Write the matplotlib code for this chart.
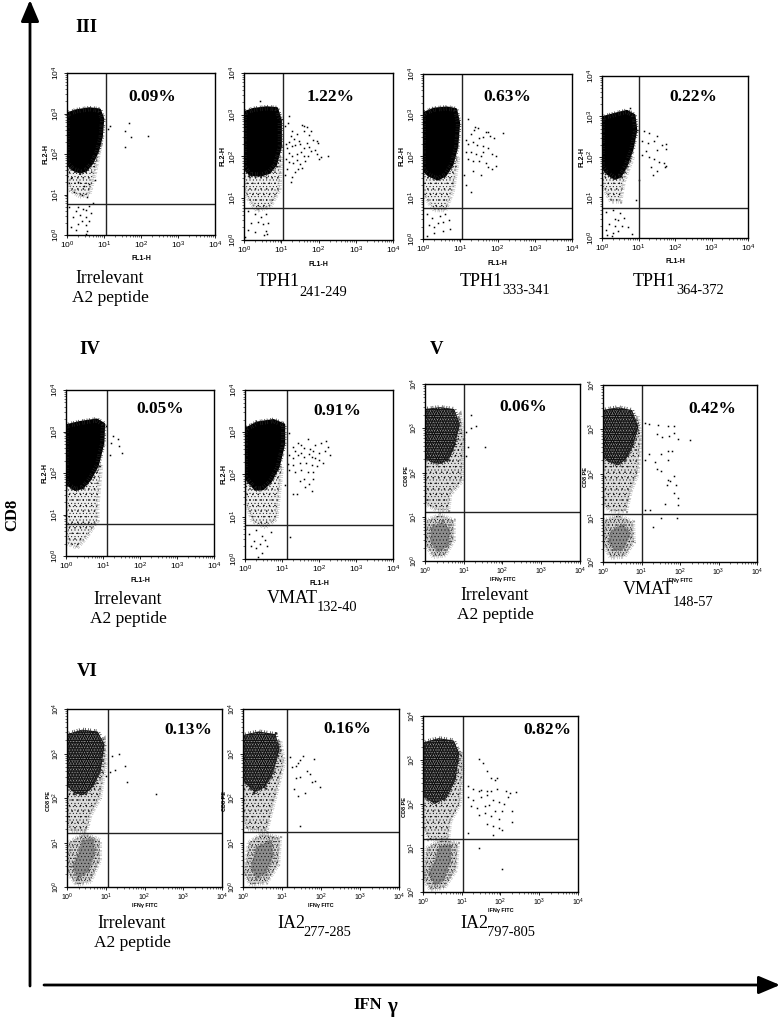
#!/usr/bin/env python3
import numpy as np
import matplotlib
matplotlib.use("Agg")
import matplotlib.pyplot as plt
from matplotlib.ticker import LogLocator, NullFormatter

W, H = 780, 1021
plt.rcParams["font.family"] = ["Liberation Serif", "DejaVu Serif"]
plt.rcParams["mathtext.default"] = "regular"
plt.rcParams["hatch.linewidth"] = 0.3

# all events are log10 fluorescence values (x = IFNg, y = CD8)
PERCENT = ["0.09%", "1.22%", "0.63%", "0.22%", "0.05%", "0.91%", "0.06%", "0.42%", "0.13%", "0.16%", "0.82%"]
GATE_X = [1.05, 1.05, 1.05, 1.01, 1.11, 1.135, 1.0, 1.01, 1.06, 1.13, 1.03]
GATE_Y = [0.765, 0.77, 0.76, 0.74, 0.77, 0.80, 1.107, 1.085, 1.21, 1.236, 1.2]

# dense populations, outlined
CORE_1 = [(0, 2.99), (.25, 3.07), (.61, 3.12), (.88, 3.09), (.97, 2.87), (.93, 2.42), (.82, 2.05), (.68, 1.78), (.52, 1.6), (.36, 1.55), (.16, 1.62), (0, 1.76)]
CORE_2 = [(0, 3.05), (.25, 3.13), (.61, 3.17), (.88, 3.15), (.98, 2.87), (.98, 2.23), (.85, 1.8), (.68, 1.62), (.45, 1.55), (.16, 1.57), (0, 1.75)]
CORE_3 = [(0, 3.04), (.29, 3.15), (.64, 3.18), (.88, 3.14), (.96, 2.81), (.91, 2.24), (.78, 1.8), (.6, 1.55), (.4, 1.45), (.15, 1.55), (0, 1.68)]
CORE_4 = [(0, 2.97), (.32, 3.05), (.68, 3.13), (.88, 3.03), (.93, 2.66), (.82, 2.17), (.66, 1.78), (.5, 1.52), (.35, 1.47), (.14, 1.6), (0, 1.76)]
CORE_5 = [(0, 3.14), (.38, 3.22), (.83, 3.28), (1.02, 3.18), (1.0, 2.72), (.85, 2.18), (.65, 1.85), (.45, 1.65), (.25, 1.6), (0, 1.75)]
CORE_6 = [(0, 3.07), (.32, 3.22), (.77, 3.28), (1.05, 3.18), (1.05, 2.73), (.9, 2.18), (.68, 1.82), (.48, 1.66), (.28, 1.65), (0, 1.94)]
CORE_7 = [(0, 3.42), (.39, 3.46), (.74, 3.42), (.88, 3.1), (.75, 2.6), (.6, 2.3), (.39, 2.21), (.15, 2.25), (0, 2.35)]
CORE_8 = [(0, 3.42), (.39, 3.48), (.74, 3.42), (.9, 3.05), (.75, 2.6), (.58, 2.33), (.39, 2.2), (.15, 2.28), (0, 2.4)]
CORE_9 = [(0, 3.42), (.39, 3.52), (.78, 3.48), (.95, 3.2), (.85, 2.6), (.65, 2.25), (.42, 2.08), (.2, 2.12), (0, 2.3)]
CORE_10 = [(0, 3.4), (.4, 3.48), (.82, 3.42), (.92, 3.1), (.75, 2.55), (.55, 2.25), (.3, 2.15), (0, 2.4)]
CORE_11 = [(0, 3.38), (.4, 3.48), (.78, 3.43), (.92, 3.15), (.82, 2.55), (.6, 2.15), (.3, 2.02), (0, 2.2)]

# thinner populations around and below the core
HALO_1 = [(0, 2.0), (.9, 2.2), (.75, 1.5), (.6, 1.0), (.35, .95), (.1, 1.1), (0, 1.4)]
HALO_2 = [(0, 1.9), (1.0, 2.0), (.95, 1.2), (.7, .8), (.35, .7), (.1, 1.0), (0, 1.3)]
HALO_3 = [(0, 1.9), (.95, 2.0), (.8, 1.15), (.6, .7), (.3, .7), (0, 1.1)]
HALO_4 = [(0, 1.8), (.85, 2.0), (.6, 1.4), (.5, .9), (.25, .9), (0, 1.3)]
HALO_5 = [(0, 1.9), (.95, 2.2), (.85, 1.2), (.85, .85), (.55, .45), (.3, .2), (.05, .3), (0, .8)]
HALO_6 = [(0, 1.9), (1.0, 2.2), (.9, 1.4), (.85, .95), (.55, .75), (.2, .9), (0, 1.4)]
HALO_7 = [(0, 2.4), (.9, 3.3), (1.0, 2.8), (.95, 1.8), (.65, 1.5), (.6, 1.15), (.3, 1.15), (0, 1.3)]
HALO_8 = [(0, 2.5), (.9, 3.3), (.98, 2.8), (.9, 2.0), (.72, 1.6), (.6, 1.15), (.2, 1.15), (0, 1.3)]
HALO_9 = [(0, 2.4), (.95, 3.3), (1.0, 2.8), (.85, 2.0), (.6, 1.6), (.5, 1.25), (.1, 1.25), (0, 1.5)]
HALO_10 = [(0, 2.5), (.95, 3.3), (1.05, 2.8), (.85, 2.1), (.7, 1.6), (.6, 1.25), (.1, 1.3), (0, 1.6)]
HALO_11 = [(0, 2.3), (1.0, 3.2), (1.02, 2.8), (.95, 2.0), (.7, 1.6), (.65, 1.2), (.15, 1.2), (0, 1.5)]

# CD8-negative cluster in the last five panels
LOW_7 = [(.05, .92), (.39, 1.04), (.74, .92), (.74, .47), (.52, .13), (.22, .09), (.01, .39)]
LOW_8 = [(.05, .95), (.4, 1.05), (.78, .9), (.8, .45), (.55, .12), (.2, .1), (.01, .4)]
LOW_9 = [(.05, 1.0), (.45, 1.2), (.85, 1.05), (.85, .6), (.6, .12), (.25, .05), (0, .35)]
LOW_10 = [(.15, 1.0), (.5, 1.2), (.95, 1.1), (.9, .5), (.6, .1), (.2, .05), (.03, .3)]
LOW_11 = [(.1, 1.0), (.5, 1.2), (.9, 1.1), (.85, .5), (.55, .1), (.2, .05), (0, .3)]
# darkest part of that cluster
LOWC_7 = [(.15, .75), (.45, .88), (.65, .7), (.6, .35), (.35, .2), (.15, .4)]
LOWC_8 = [(.2, .7), (.5, .85), (.72, .65), (.55, .3), (.3, .25), (.15, .45)]
LOWC_9 = [(.4, 1.05), (.68, 1.08), (.72, .75), (.55, .35), (.3, .2), (.15, .45), (.3, .75)]
LOWC_10 = [(.35, .9), (.72, 1.05), (.78, .7), (.58, .3), (.35, .2), (.2, .45)]
LOWC_11 = [(.42, 1.05), (.72, 1.08), (.72, .7), (.52, .25), (.3, .15), (.15, .45), (.3, .7)]

# single events
DOTS_1 = [(1.11, 2.62), (1.17, 2.68), (1.68, 2.76), (1.58, 2.56), (1.74, 2.42), (2.19, 2.44), (1.58, 2.17),
          (.1, 1.4), (.3, 1.3), (.45, 1.2), (.6, 1.25), (.2, 1.05), (.4, 1.0), (.55, .95), (.75, 1.35), (.7, .8),
          (.3, .7), (.42, .65), (.52, .62), (.6, .72), (.25, .6), (.35, .5), (.5, .45), (.15, .45), (.6, .35),
          (.4, .35), (.5, .25), (.3, .28), (.1, .2), (.55, .1), (.52, .03), (.25, .12), (.65, .55), (.05, .7)]
DOTS_2 = [(.42, 3.33), (1.22, 2.98), (1.19, 2.8), (1.1, 2.72), (1.3, 2.6), (1.25, 2.5), (1.42, 2.55), (1.56, 2.76),
          (1.62, 2.62), (1.6, 2.72), (1.7, 2.7), (1.8, 2.6), (1.75, 2.52), (1.47, 2.36), (1.35, 2.42), (1.2, 2.35),
          (1.12, 2.3), (1.15, 2.2), (1.28, 2.24), (1.38, 2.27), (1.5, 2.3), (1.6, 2.2), (1.68, 2.32), (1.75, 2.22),
          (1.85, 2.4), (1.97, 2.38), (1.98, 2.33), (1.8, 2.12), (1.9, 2.15), (1.95, 2.05), (2.0, 1.93), (2.08, 1.98),
          (2.25, 2.0), (1.2, 2.08), (1.3, 2.0), (1.42, 2.05), (1.52, 2.1), (1.6, 2.0), (1.65, 1.9), (1.72, 2.02),
          (1.12, 1.95), (1.22, 1.88), (1.32, 1.85), (1.42, 1.92), (1.5, 1.82), (1.55, 1.72), (1.45, 1.7), (1.38, 1.62),
          (1.28, 1.5), (1.15, 1.7), (1.1, 1.55), (1.25, 1.4), (.1, .7), (.3, .62), (.45, .55), (.6, .62), (.2, .4),
          (.38, .42), (.5, .38), (.65, .4), (.12, .25), (.3, .2), (.58, .22), (.62, .15), (.04, .08), (.55, .12)]
DOTS_3 = [(1.2, 2.92), (1.4, 2.72), (1.38, 2.65), (1.47, 2.68), (1.7, 2.6), (1.75, 2.6), (2.15, 2.58), (1.9, 2.45),
          (1.8, 2.5), (1.6, 2.48), (1.5, 2.45), (1.3, 2.55), (1.15, 2.4), (1.22, 2.3), (1.35, 2.35), (1.45, 2.28),
          (1.6, 2.25), (1.75, 2.2), (1.62, 2.12), (1.85, 2.05), (1.95, 2.0), (1.55, 2.0), (1.42, 2.05), (1.3, 2.12),
          (1.15, 2.1), (1.2, 1.95), (1.35, 1.88), (1.5, 1.9), (1.68, 1.85), (1.75, 1.75), (1.85, 1.7), (1.95, 1.78),
          (1.35, 1.65), (1.55, 1.55), (1.15, 1.3), (1.28, 1.15), (1.1, 1.55), (.1, .6), (.25, .5), (.45, .55),
          (.6, .6), (.4, .38), (.55, .42), (.7, .45), (.15, .35), (.3, .28), (.55, .2), (.72, .25), (.1, .08), (.3, .15)]
DOTS_4 = [(.78, 3.2), (1.15, 2.65), (1.3, 2.6), (1.52, 2.52), (1.42, 2.4), (1.1, 2.4), (1.25, 2.35), (1.65, 2.3),
          (1.75, 2.32), (1.75, 2.2), (1.5, 2.18), (1.2, 2.15), (1.1, 2.05), (1.3, 2.0), (1.42, 1.95), (1.55, 1.88),
          (1.7, 1.85), (1.72, 1.75), (1.75, 1.78), (1.35, 1.75), (1.4, 1.55), (1.5, 1.65), (1.02, 1.42), (.92, .95),
          (.1, .65), (.3, .7), (.5, .62), (.35, .48), (.45, .45), (.6, .5), (.2, .35), (.35, .3), (.55, .3),
          (.12, .2), (.3, .12), (.45, .18), (.28, .05), (.72, .28), (.82, .1), (.15, .08)]
DOTS_5 = [(1.07, 3.13), (1.27, 2.9), (1.22, 2.73), (1.4, 2.83), (1.44, 2.66), (1.52, 2.49), (1.18, 2.43)]
DOTS_6 = [(1.2, 2.98), (1.3, 2.65), (1.42, 2.75), (1.35, 2.55), (1.5, 2.7), (1.6, 2.62), (1.7, 2.85), (1.75, 2.6),
          (1.85, 2.55), (1.9, 2.7), (2.0, 2.5), (2.05, 2.75), (2.2, 2.8), (2.15, 2.55), (2.25, 2.65), (2.3, 2.45),
          (1.2, 2.45), (1.3, 2.38), (1.42, 2.45), (1.5, 2.5), (1.6, 2.42), (1.72, 2.48), (1.82, 2.42), (1.9, 2.38),
          (2.0, 2.35), (2.1, 2.28), (1.95, 2.2), (1.8, 2.22), (1.65, 2.28), (1.48, 2.28), (1.3, 2.22), (1.15, 2.25),
          (1.2, 2.1), (1.35, 2.05), (1.52, 2.1), (1.7, 2.05), (1.85, 2.05), (1.6, 1.9), (1.48, 1.85), (1.72, 1.78),
          (1.85, 1.9), (1.62, 1.7), (1.82, 1.6), (1.4, 1.55), (1.3, 1.55), (1.08, 1.75), (.1, .6), (.3, .68), (.45, .55),
          (.25, .42), (.4, .35), (.55, .45), (.15, .3), (.3, .25), (.7, .65), (.45, .15), (.6, .3), (1.22, .52), (.35, .05)]
DOTS_7 = [(1.2, 3.3), (1.18, 3.0), (1.32, 3.05), (1.05, 2.92), (1.12, 2.58), (1.55, 2.58), (1.05, 2.38)]
DOTS_8 = [(1.1, 3.15), (1.2, 3.12), (1.42, 3.1), (1.7, 3.08), (1.85, 3.07), (1.4, 2.9), (1.52, 2.82), (1.72, 2.85),
          (1.85, 2.92), (1.95, 2.78), (2.25, 2.75), (1.2, 2.45), (1.5, 2.45), (1.7, 2.5), (1.8, 2.5), (1.1, 2.3),
          (1.35, 2.25), (1.4, 2.1), (1.5, 2.05), (1.7, 2.3), (1.85, 1.95), (1.65, 1.75), (1.68, 1.85), (1.75, 1.82),
          (1.9, 1.75), (1.85, 1.55), (1.95, 1.45), (1.6, 1.3), (1.95, 1.28), (1.1, 1.18), (1.22, 1.17), (1.5, 1.0),
          (1.92, 1.0), (1.3, .8)]
DOTS_9 = [(1.15, 2.95), (1.35, 2.98), (1.12, 2.58), (1.25, 2.62), (1.5, 2.72), (1.55, 2.35), (2.3, 2.08), (1.0, 2.5)]
DOTS_10 = [(1.2, 2.92), (1.45, 2.85), (1.55, 2.95), (1.82, 2.87), (1.25, 2.7), (1.35, 2.72), (1.42, 2.78), (1.65, 2.6),
           (1.72, 2.55), (1.35, 2.45), (1.45, 2.48), (1.78, 2.35), (1.85, 2.38), (1.97, 2.25), (1.3, 2.2), (1.58, 2.12),
           (1.4, 2.05), (1.45, 1.38)]
DOTS_11 = [(1.45, 3.03), (1.55, 2.93), (1.65, 2.75), (1.75, 2.6), (1.85, 2.55), (1.9, 2.58), (1.15, 2.4), (1.3, 2.35),
           (1.45, 2.3), (1.5, 2.32), (1.65, 2.3), (1.75, 2.3), (1.9, 2.35), (2.15, 2.3), (2.25, 2.25), (2.4, 2.28),
           (1.15, 2.15), (1.3, 2.1), (1.5, 2.15), (1.65, 2.2), (1.8, 2.1), (1.95, 2.05), (2.1, 2.0), (2.2, 2.15),
           (1.25, 1.95), (1.4, 1.9), (1.6, 1.95), (1.7, 1.98), (1.85, 1.85), (2.05, 1.85), (2.3, 1.85), (1.45, 1.75),
           (1.6, 1.8), (1.75, 1.72), (1.95, 1.65), (2.3, 1.6), (1.65, 1.55), (1.8, 1.5), (1.95, 1.45), (2.05, 1.4),
           (1.15, 1.35), (1.8, 1.3), (1.45, 1.0), (2.05, .52)]

CORES = [CORE_1, CORE_2, CORE_3, CORE_4, CORE_5, CORE_6, CORE_7, CORE_8, CORE_9, CORE_10, CORE_11]
HALOS = [HALO_1, HALO_2, HALO_3, HALO_4, HALO_5, HALO_6, HALO_7, HALO_8, HALO_9, HALO_10, HALO_11]
LOWS = [None, None, None, None, None, None, LOW_7, LOW_8, LOW_9, LOW_10, LOW_11]
LOW_CORES = [None, None, None, None, None, None, LOWC_7, LOWC_8, LOWC_9, LOWC_10, LOWC_11]
DOTS = [DOTS_1, DOTS_2, DOTS_3, DOTS_4, DOTS_5, DOTS_6, DOTS_7, DOTS_8, DOTS_9, DOTS_10, DOTS_11]

# left, right, top, bottom in pixels, then percent label centre
BOXES = [(67, 215, 73, 235), (244, 393, 73, 240), (423, 572, 74, 239), (602, 748, 76, 238),
         (66, 214, 390, 556), (245, 393, 390, 559), (425, 580, 384, 561), (603, 757, 385, 562),
         (67, 222, 709, 887), (243, 399, 709, 887), (423, 578, 716, 892)]
PCT_POS = [(152, 97), (331, 97), (507, 97), (693, 97), (160, 409), (337, 411), (523, 407), (712, 409),
           (188, 730), (347, 729), (547, 730)]

# uneven dashes: a thick stroke of these gives a polygon a frayed edge instead of a clean line
FRAY = (0, (0.12, 0.3, 0.12, 0.55, 0.12, 0.2, 0.12, 0.4))

fig = plt.figure(figsize=(W / 100, H / 100), dpi=100, facecolor="white")


def fx(px):
    return px / W


def fy(py):
    return 1 - py / H


def unlog(points):
    arr = np.array(points, dtype=float)
    return 10 ** arr[:, 0], 10 ** arr[:, 1]


def speckle(ax, poly, under, hatches, fray="#999999"):
    # two dot hatches of different pitch beat against each other, so the dots look less like a grid
    x, y = unlog(poly)
    ax.fill(x, y, facecolor=under, edgecolor="none", lw=0)
    for h in hatches:
        ax.fill(x, y, facecolor="none", edgecolor="black", hatch=h, lw=0)
    ax.fill(x, y, facecolor="none", edgecolor=fray, lw=3, ls=FRAY)


for i, (l, r, t, b) in enumerate(BOXES):
    ax = fig.add_axes([fx(l), fy(b), fx(r - l), (b - t) / H])
    ax.set_xscale("log")
    ax.set_yscale("log")
    ax.set_xlim(1, 1e4)
    ax.set_ylim(1, 1e4)
    first_kind = i < 6

    speckle(ax, HALOS[i], "#eeeeee" if first_kind else "#dcdcdc", ["...", "....."])
    cx, cy = unlog(CORES[i])
    if first_kind:
        ax.fill(cx, cy, facecolor="black", edgecolor="black", lw=2, joinstyle="round")
    else:
        ax.fill(cx, cy, facecolor="#111111", edgecolor="#111111", lw=1, joinstyle="round")
        ax.fill(cx, cy, facecolor="none", edgecolor="#bbbbbb", hatch="......", lw=0)
        ax.fill(cx, cy, facecolor="none", edgecolor="#888888", hatch="........", lw=0)
    ax.fill(cx, cy, facecolor="none", edgecolor="#222222", lw=4, ls=FRAY)
    if LOWS[i] is not None:
        speckle(ax, LOWS[i], "#d4d4d4", ["....", "......"])
        speckle(ax, LOW_CORES[i], "#8c8c8c", ["....."], fray="#666666")
    dx, dy = unlog(DOTS[i])
    ax.plot(dx, dy, ls="none", marker="s", ms=1.1, mew=0, color="black")

    ax.axvline(10 ** GATE_X[i], color="#222222", lw=1.0)
    ax.axhline(10 ** GATE_Y[i], color="#222222", lw=1.0)

    for s in ax.spines.values():
        s.set_linewidth(1.0)
    ax.xaxis.set_major_locator(LogLocator(base=10, numticks=6))
    ax.yaxis.set_major_locator(LogLocator(base=10, numticks=6))
    ax.xaxis.set_minor_locator(LogLocator(base=10, subs=np.arange(2, 10), numticks=6))
    ax.yaxis.set_minor_locator(LogLocator(base=10, subs=np.arange(2, 10), numticks=6))
    ax.xaxis.set_minor_formatter(NullFormatter())
    ax.yaxis.set_minor_formatter(NullFormatter())
    ax.tick_params(which="major", length=2.5, width=0.6, pad=1, labelsize=6 if first_kind else 5)
    ax.tick_params(which="minor", length=1.2, width=0.4)
    for lab in ax.get_xticklabels() + ax.get_yticklabels():
        lab.set_family("Liberation Sans")
    for lab in ax.get_yticklabels():
        lab.set_rotation(90)
        lab.set_va("center")

    xname, yname = ("FL1-H", "FL2-H") if first_kind else ("IFNγ FITC", "CD8 PE")
    size = 5 if first_kind else 4
    ax.set_xlabel(xname, fontsize=size, family="Liberation Sans", weight="bold")
    ax.xaxis.set_label_coords(0.5, -0.125 if first_kind else -0.09)
    ax.set_ylabel(yname, fontsize=size, family="Liberation Sans", weight="bold")
    ax.yaxis.set_label_coords(-0.115 if first_kind else -0.1, 0.5 if first_kind else 0.48)

    px, py = PCT_POS[i]
    fig.text(fx(px), fy(py), PERCENT[i], fontsize=12.5, weight="bold", ha="center", va="center")

# panel group numbers
for label, px, py in [("III", 86, 28), ("IV", 90, 350), ("V", 437, 350), ("VI", 87, 671)]:
    fig.text(fx(px), fy(py), label, fontsize=13.5, weight="bold", ha="center", va="center")

# peptide captions, main part and subscript
for px, py in [(110, 278), (128, 599), (495, 595), (132, 923)]:
    fig.text(fx(px), fy(py), "Irrelevant", fontsize=12.7, ha="center", va="center")
    fig.text(fx(px), fy(py + 20), "A2 peptide", fontsize=12.5, ha="center", va="center")
for name, sub, px, py, sx, sy in [
    ("TPH1", "241-249", 257, 282, 299, 292),
    ("TPH1", "333-341", 460, 282, 502, 291),
    ("TPH1", "364-372", 633, 282, 676, 291),
    ("VMAT", "132-40", 267, 598, 317, 607),
    ("VMAT", "148-57", 623, 590, 673, 603),
    ("IA2", "277-285", 277, 923, 303, 932),
    ("IA2", "797-805", 460, 923, 487, 932),
]:
    fig.text(fx(px), fy(py), name, fontsize=13, ha="left", va="center")
    fig.text(fx(sx), fy(sy), sub, fontsize=10.4, ha="left", va="center")

# axis arrows over the whole figure
bg = fig.add_axes([0, 0, 1, 1], facecolor="none")
bg.set_xlim(0, W)
bg.set_ylim(H, 0)
bg.axis("off")
bg.annotate("", xy=(30, 0), xytext=(30, 986), arrowprops=dict(arrowstyle="-|>,head_length=1.3,head_width=0.55", color="black", lw=2, shrinkA=0, shrinkB=0))
bg.annotate("", xy=(780, 985), xytext=(44, 985), arrowprops=dict(arrowstyle="-|>,head_length=1.3,head_width=0.55", color="black", lw=2, shrinkA=0, shrinkB=0))

fig.text(fx(12), fy(515), "CD8", fontsize=12, weight="bold", rotation=90, ha="center", va="center")
fig.text(fx(368), fy(1005), "IFN", fontsize=12, weight="bold", ha="center", va="center")
fig.text(fx(392), fy(1007), "γ", fontsize=15, weight="bold", ha="center", va="center")

fig.savefig("out.png", dpi=100)
